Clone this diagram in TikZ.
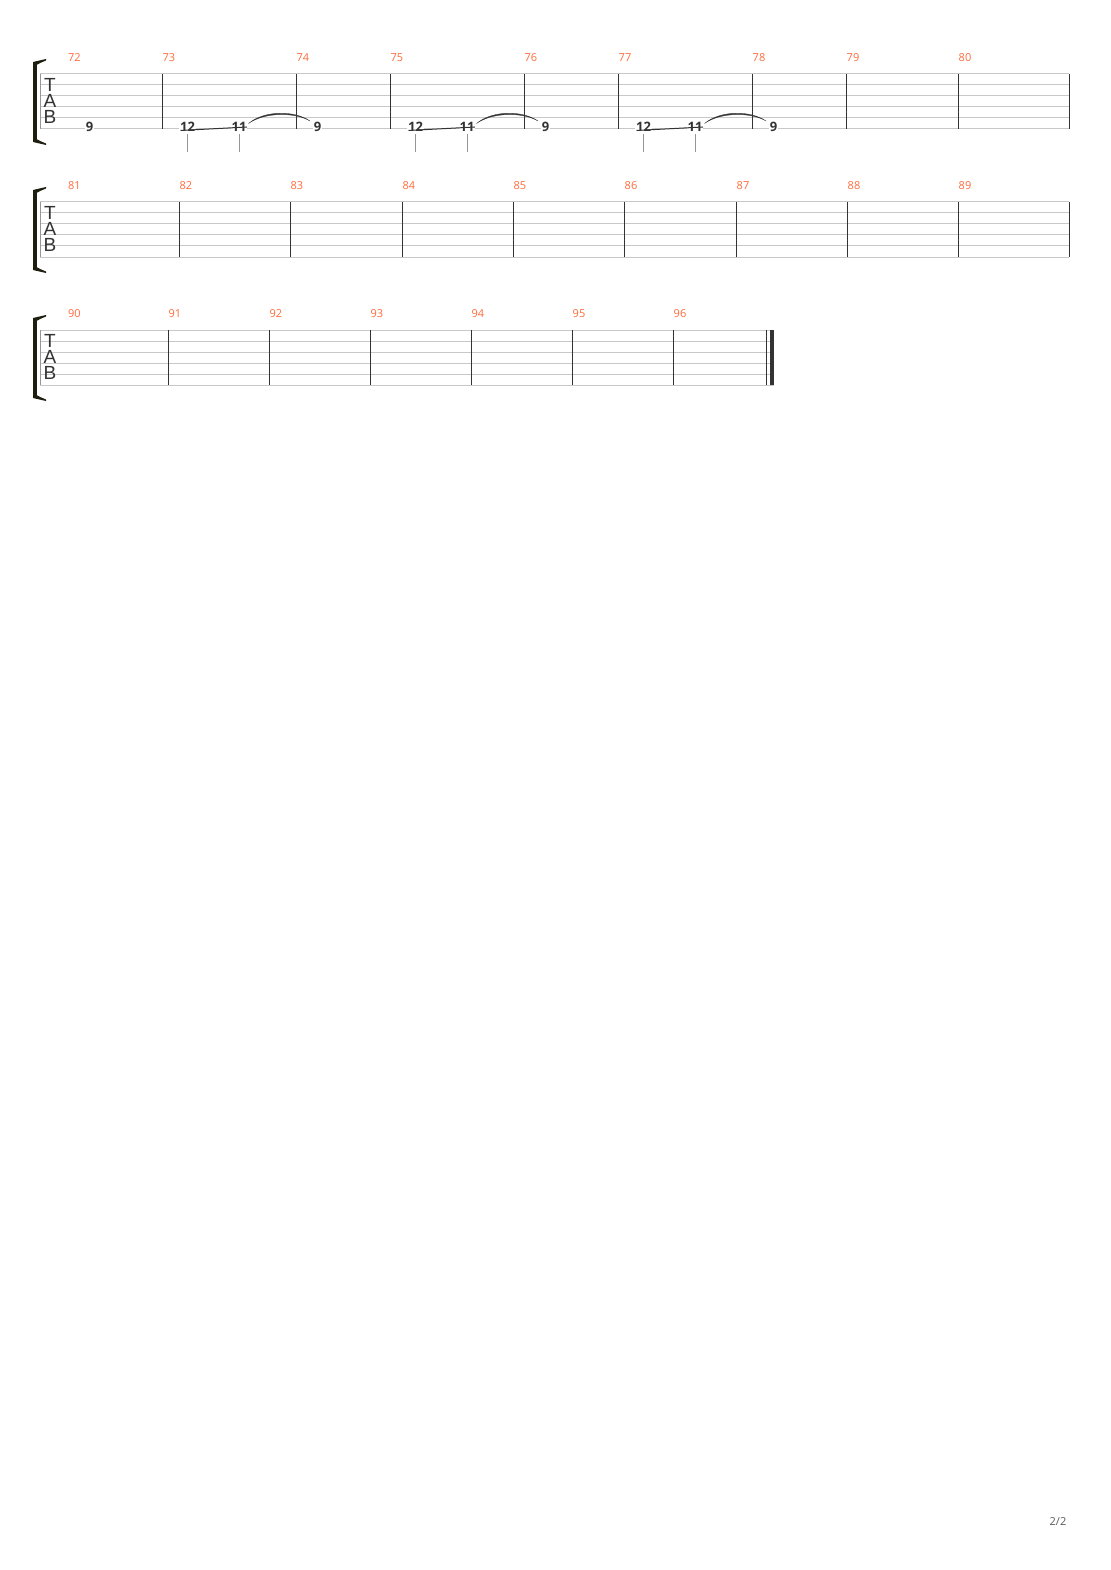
\documentclass[tikz,border=0pt]{standalone}
\usepackage{fontspec}
\setmainfont{Open Sans}
\newfontfamily\tabfont{Liberation Sans}
\usetikzlibrary{calc}
\definecolor{barnum}{RGB}{255,108,60}
\definecolor{staffgray}{RGB}{200,200,200}
\definecolor{bargray}{RGB}{51,51,51}
\definecolor{stemgray}{RGB}{150,150,150}
\definecolor{bracketcol}{RGB}{30,30,15}
\tikzset{
  staffline/.style={staffgray, line width=1pt},
  barline/.style={bargray, line width=1.3pt},
  barnumber/.style={anchor=west, inner sep=0pt, text=barnum, font=\fontsize{11}{11}\selectfont},
  fret/.style={fill=white, inner sep=0.6pt, text=bargray, font=\fontsize{13}{13}\selectfont\bfseries},
  stem/.style={stemgray, line width=1pt},
  slide/.style={bargray, line width=1pt},
  tie/.style={fill=bargray, draw=bargray, line width=0.3pt},
  tabletter/.style={inner sep=0pt, text=bargray, font=\tabfont\fontsize{19}{19}\selectfont},
  pagenum/.style={inner sep=0pt, text=black!65, font=\fontsize{11}{11}\selectfont}
}

\begin{document}
\begin{tikzpicture}[x=1pt, y=-1pt]
\useasboundingbox[fill=white] (0,0) rectangle (1110,1570);
% staves, brackets and TAB clefs
\foreach \y/\e in {74/1069,202/1069,330/774}{
  \foreach \i in {0,...,5}
    \draw[staffline] (40,\y+11*\i) -- (\e,\y+11*\i);
  \draw[stemgray, line width=1pt] (40.5,\y) -- (40.5,\y+55);
  \fill[bracketcol] (33,\y-12) rectangle (36.5,\y+68);
  \fill[bracketcol] (33,\y-12) .. controls (39,\y-14) .. (46,\y-15) -- (46,\y-13.5) .. controls (40,\y-11) .. (36.5,\y-9) -- cycle;
  \fill[bracketcol] (33,\y+68) .. controls (39,\y+70) .. (46,\y+71) -- (46,\y+69.5) .. controls (40,\y+67) .. (36.5,\y+65) -- cycle;
  \node[tabletter] (T\y) at (50,\y+11) {T};
  \node[tabletter] (A\y) at (50,\y+27) {A};
  \node[tabletter] (B\y) at (50,\y+43) {B};
}
% system 1
\node[barnumber] (m72) at (68,58) {72};
\foreach \x/\n in {162.5/73,296.5/74,390.5/75,524.5/76,618.5/77,752.5/78,846.5/79,958.5/80}{
  \draw[barline] (\x,74) -- (\x,129);
  \node[barnumber] (m\n) at (\x,58) {\n};
}
\draw[barline] (1069.5,74) -- (1069.5,129);
% system 2
\node[barnumber] (m81) at (68,186) {81};
\foreach \x/\n in {179.5/82,290.5/83,402.5/84,513.5/85,624.5/86,736.5/87,847.5/88,958.5/89}{
  \draw[barline] (\x,202) -- (\x,257);
  \node[barnumber] (m\n) at (\x,186) {\n};
}
\draw[barline] (1069.5,202) -- (1069.5,257);
% system 3
\node[barnumber] (m90) at (68,314) {90};
\foreach \x/\n in {168.5/91,269.5/92,370.5/93,471.5/94,572.5/95,673.5/96}{
  \draw[barline] (\x,330) -- (\x,385);
  \node[barnumber] (m\n) at (\x,314) {\n};
}
\draw[barline] (766.5,330) -- (766.5,385);
\fill[bargray] (770,330) rectangle (773.8,385);
% notes
\node[fret] (n72) at (89.5,127) {9};
\foreach \x/\m in {162.5/a,390.5/b,618.5/c}{
  \node[fret] (\m12) at (\x+25,127) {12};
  \node[fret] (\m11) at (\x+76.5,127) {11};
  \node[fret] (\m9) at (\x+155,127) {9};
  \draw[stem] ($(\m12.center)+(0,7)$) -- ($(\m12.center)+(0,25.5)$);
  \draw[stem] ($(\m11.center)+(0,7)$) -- ($(\m11.center)+(0,25.5)$);
  \draw[slide] ($(\m12.center)+(-7,3.5)$) -- ($(\m11.center)+(8,0)$);
  \filldraw[tie] ($(\m11.center)+(9.5,-3.5)$) .. controls +(16,-13.5) and +(-15,-10.5) .. ($(\m9.center)+(-7.5,-6)$)
    .. controls +(-15,-9) and +(16,-11.5) .. ($(\m11.center)+(9.5,-3.5)$) -- cycle;
}
\node[pagenum] (page) at (1058,1521) {2/2};
\end{tikzpicture}
\end{document}
